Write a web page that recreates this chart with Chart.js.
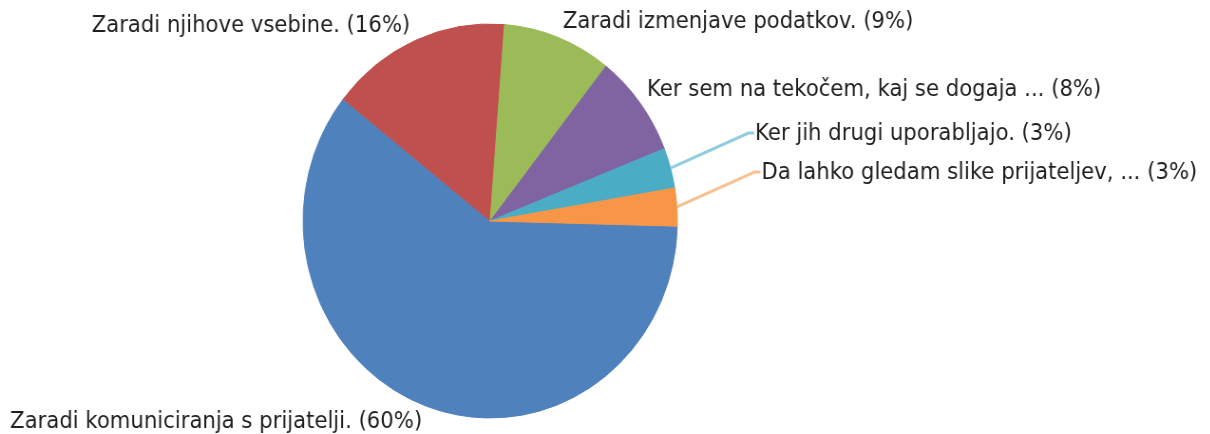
<!DOCTYPE html>
<html>
<head>
<meta charset="utf-8">
<script src="https://cdn.jsdelivr.net/npm/chart.js@4/dist/chart.umd.min.js"></script>
<style>
  html, body { margin: 0; padding: 0; background: #fff; overflow: hidden; }
  /* the source picture is squeezed a little horizontally */
  #wrap { width: 1274px; height: 434px; transform: scaleX(0.95); transform-origin: 0 0; }
</style>
</head>
<body>
<div id="wrap"><canvas id="pie"></canvas></div>
<script>
// ── Data ──────────────────────────────────────────────────────────────────────
const categories = [
  'Zaradi komuniciranja s prijatelji.',
  'Zaradi njihove vsebine.',
  'Zaradi izmenjave podatkov.',
  'Ker sem na tekočem, kaj se dogaja ...',
  'Ker jih drugi uporabljajo.',
  'Da lahko gledam slike prijateljev, ...'
];
const shares       = [60.2, 15.6, 9.4, 8.4, 3.3, 3.1];
const sliceColors  = ['#4F81BD', '#C0504D', '#9BBB59', '#8064A2', '#4BACC6', '#F79646'];
const leaderColors = [null, null, null, null, '#92CDDD', '#FAC090'];

// ── Outside labels ────────────────────────────────────────────────────────────
const outsideLabels = {
  id: 'outsideLabels',
  afterDatasetsDraw(chart) {
    const { ctx } = chart;
    const meta  = chart.getDatasetMeta(0);
    const total = shares.reduce((a, b) => a + b, 0);
    ctx.save();
    ctx.font = '22.3px "DejaVu Sans"';
    ctx.fillStyle = '#1e1e1e';
    meta.data.forEach((arc, i) => {
      const { x, y, startAngle, endAngle, outerRadius } =
        arc.getProps(['x', 'y', 'startAngle', 'endAngle', 'outerRadius'], true);
      const mid = (startAngle + endAngle) / 2;
      const cos = Math.cos(mid), sin = Math.sin(mid);
      const text = `${categories[i]} (${Math.round(shares[i] / total * 100)}%)`;
      if (leaderColors[i]) {
        const px = x + outerRadius * cos, py = y + outerRadius * sin;
        const ex = px + 82, ey = py - 35;
        ctx.strokeStyle = leaderColors[i];
        ctx.lineWidth = 3;
        ctx.beginPath();
        ctx.moveTo(px, py); ctx.lineTo(ex, ey); ctx.lineTo(ex + 6, ey);
        ctx.stroke();
        ctx.textAlign = 'left';
        ctx.textBaseline = 'middle';
        ctx.fillText(text, ex + 7, ey + 1);
      } else {
        const r  = outerRadius + 5;
        const px = x + r * cos + (cos >= 0 ? 3 : -3), py = y + r * sin + (sin < 0 ? 1 : 0);
        ctx.textAlign    = cos >= 0 ? 'left' : 'right';
        ctx.textBaseline = sin < 0 ? 'bottom' : 'top';
        ctx.fillText(text, px, py);
      }
    });
    ctx.restore();
  }
};

new Chart(document.getElementById('pie'), {
  type: 'pie',
  data: {
    labels: categories,
    datasets: [{
      data: shares,
      backgroundColor: sliceColors,
      borderColor: sliceColors,
      borderWidth: 1
    }]
  },
  options: {
    responsive: true, maintainAspectRatio: false,
    animation: false,
    rotation: 91.5,
    radius: 197,
    layout: { padding: { left: 200, right: 442, top: 18, bottom: 10 } },
    plugins: { legend: { display: false }, tooltip: { enabled: false } },
    events: []
  },
  plugins: [outsideLabels]
});
</script>
</body>
</html>
